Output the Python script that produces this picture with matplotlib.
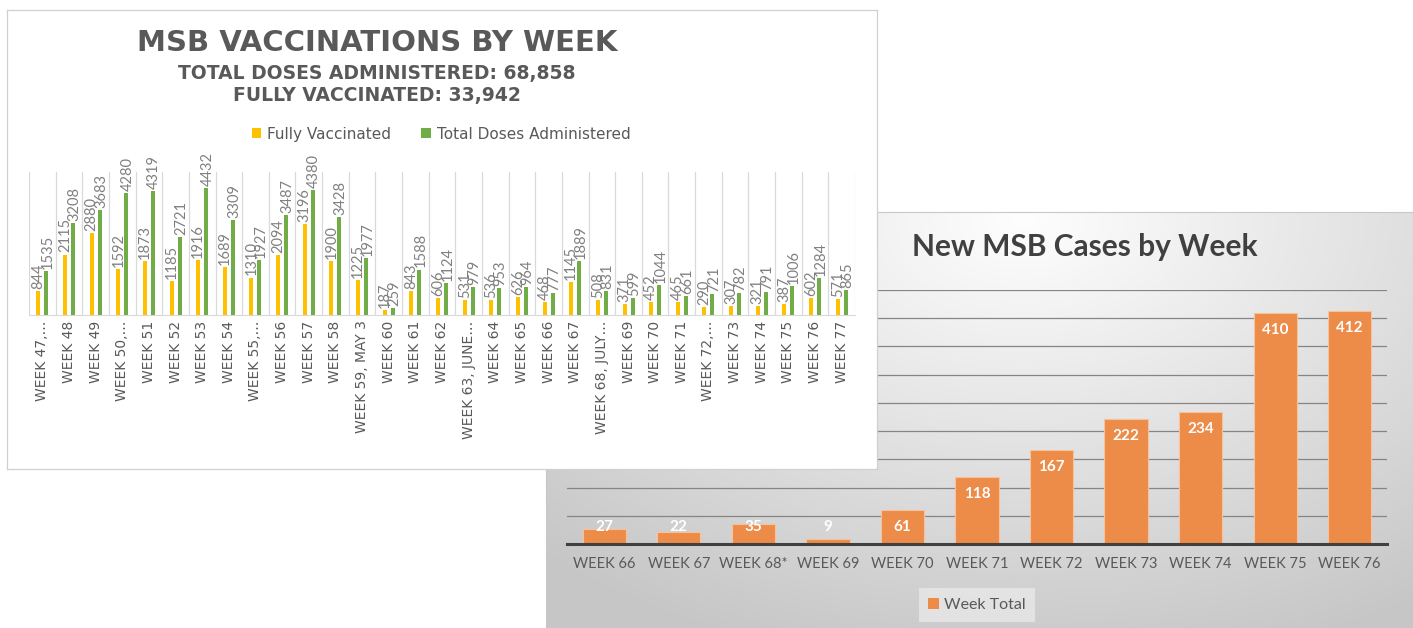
import numpy as np
import matplotlib
matplotlib.use("Agg")
import matplotlib.pyplot as plt
from matplotlib.patches import Patch

# ---------------- data ----------------
vax_weeks = ["WEEK 47,…", "WEEK 48", "WEEK 49", "WEEK 50,…", "WEEK 51", "WEEK 52",
             "WEEK 53", "WEEK 54", "WEEK 55,…", "WEEK 56", "WEEK 57", "WEEK 58",
             "WEEK 59, MAY 3", "WEEK 60", "WEEK 61", "WEEK 62", "WEEK 63, JUNE…",
             "WEEK 64", "WEEK 65", "WEEK 66", "WEEK 67", "WEEK 68, JULY…", "WEEK 69",
             "WEEK 70", "WEEK 71", "WEEK 72,…", "WEEK 73", "WEEK 74", "WEEK 75",
             "WEEK 76", "WEEK 77"]
fully_vaccinated = [844, 2115, 2880, 1592, 1873, 1185, 1916, 1689, 1310, 2094, 3196,
                    1900, 1225, 187, 843, 606, 531, 536, 626, 468, 1145, 508, 371,
                    452, 465, 290, 307, 321, 387, 602, 571]
total_doses = [1535, 3208, 3683, 4280, 4319, 2721, 4432, 3309, 1927, 3487, 4380,
               3428, 1977, 259, 1588, 1124, 979, 953, 964, 777, 1889, 831, 599,
               1044, 661, 721, 782, 791, 1006, 1284, 865]

case_weeks = ["WEEK 66", "WEEK 67", "WEEK 68*", "WEEK 69", "WEEK 70", "WEEK 71",
              "WEEK 72", "WEEK 73", "WEEK 74", "WEEK 75", "WEEK 76"]
week_total = [27, 22, 35, 9, 61, 118, 167, 222, 234, 410, 412]

YELLOW = "#FFC000"
GREEN = "#70AD47"
ORANGE = "#ED8B48"

W, H = 1413, 628
fig = plt.figure(figsize=(W / 100, H / 100), dpi=100)
fig.patch.set_facecolor("white")


def fx(px):
    return px / W


def fy(py):
    return 1 - py / H


# ---------------- right panel background (gradient) ----------------
bg = fig.add_axes([fx(546), 0, fx(W - 546), 416 / H], zorder=0)
yy, xx = np.mgrid[0:1:300j, 0:1:600j]
r = np.sqrt(((xx - 0.55) / 0.85) ** 2 + ((yy - 0.02) / 1.15) ** 2)
g = np.clip(254 - 58 * r, 198, 254) / 255.0
bg.imshow(np.dstack([g, g, g]), aspect="auto", extent=[0, 1, 1, 0])
bg.set_xlim(0, 1)
bg.set_ylim(1, 0)
bg.set_xticks([])
bg.set_yticks([])
for s in bg.spines.values():
    s.set_color("#c8c8c8")
    s.set_linewidth(0.8)

# ---------------- right chart ----------------
axr = fig.add_axes([fx(567), fy(544), fx(1387 - 567), (544 - 290) / H], zorder=1)
axr.patch.set_alpha(0)
xr = np.arange(len(case_weeks))
axr.bar(xr, week_total, width=0.58, color=ORANGE, edgecolor="#F6C29C",
        linewidth=0.8, zorder=3, label="Week Total")
axr.set_xlim(-0.5, len(case_weeks) - 0.5)
axr.set_ylim(0, 450)
axr.set_yticks(np.arange(50, 451, 50))
axr.yaxis.grid(True, color="#858585", linewidth=0.9)
axr.set_axisbelow(True)
axr.tick_params(axis="y", left=False, labelleft=False)
axr.set_xticks(xr)
axr.set_xticklabels(case_weeks, fontfamily="Lato", fontsize=10.5, color="#595959")
axr.tick_params(axis="x", length=0, pad=9)
for s in ["left", "right", "top"]:
    axr.spines[s].set_visible(False)
axr.spines["bottom"].set_color("#404040")
axr.spines["bottom"].set_linewidth(2.2)
axr.spines["bottom"].set_zorder(4)
for xi, v in zip(xr, week_total):
    axr.text(xi, max(v - 30, 30), str(v), ha="center", va="center", color="white",
             fontfamily="Lato", fontweight="bold", fontsize=11, zorder=5)
axr.text(0.632, 1.17, "New MSB Cases by Week", transform=axr.transAxes,
         ha="center", va="center", fontfamily="Lato", fontweight="bold",
         fontsize=21.5, color="#404040")
leg_r = axr.legend(handles=[Patch(facecolor=ORANGE, label="Week Total")],
                   loc="center", bbox_to_anchor=(fx(977), fy(605)),
                   bbox_transform=fig.transFigure, frameon=True, fancybox=False,
                   handlelength=0.7, handleheight=0.7, handletextpad=0.3,
                   prop={"family": "Lato", "size": 11.5}, borderpad=0.6)
leg_r.get_frame().set_facecolor("#e8e8e8")
leg_r.get_frame().set_edgecolor("none")
for t in leg_r.get_texts():
    t.set_color("#595959")

# ---------------- left panel background ----------------
lp = fig.add_axes([fx(7), fy(469), fx(877 - 7), (469 - 10) / H], zorder=2)
lp.set_facecolor("white")
lp.set_xticks([])
lp.set_yticks([])
for s in lp.spines.values():
    s.set_color("#d0d0d0")
    s.set_linewidth(0.9)

# ---------------- left chart ----------------
axl = fig.add_axes([fx(29), fy(315), fx(855 - 29), (315 - 172) / H], zorder=3)
axl.patch.set_alpha(0)
xl = np.arange(len(vax_weeks))
off, bw = 0.15, 0.15
axl.bar(xl - off, fully_vaccinated, width=bw, color=YELLOW, zorder=3,
        label="Fully Vaccinated")
axl.bar(xl + off, total_doses, width=bw, color=GREEN, zorder=3,
        label="Total Doses Administered")
axl.set_xlim(-0.5, len(vax_weeks) - 0.5)
axl.set_ylim(0, 5000)
axl.set_yticks([])
axl.set_xticks(xl)
axl.set_xticklabels(vax_weeks, rotation=90, fontsize=10, color="#595959",
                    fontfamily="DejaVu Sans")
axl.tick_params(axis="x", length=0, pad=4)
axl.set_xticks(np.arange(-0.5, len(vax_weeks), 1), minor=True)
axl.tick_params(axis="x", which="minor", length=0)
axl.xaxis.grid(True, which="minor", color="#d9d9d9", linewidth=0.9)
axl.set_axisbelow(True)
for s in ["left", "right", "top"]:
    axl.spines[s].set_visible(False)
axl.spines["bottom"].set_color("#d9d9d9")
for xi, a, b in zip(xl, fully_vaccinated, total_doses):
    axl.annotate(str(a), (xi - off, a), xytext=(0, 1.5), textcoords="offset points",
                 rotation=90, ha="center", va="bottom", fontsize=10.5,
                 color="#808080", fontfamily="Lato", zorder=5)
    axl.annotate(str(b), (xi + off + 0.05, b), xytext=(0, 1.5),
                 textcoords="offset points", rotation=90, ha="center",
                 va="bottom", fontsize=10.5, color="#808080", fontfamily="Lato",
                 zorder=5)

leg_l = axl.legend(loc="center", bbox_to_anchor=(fx(441), fy(134)),
                   bbox_transform=fig.transFigure, ncol=2, frameon=False,
                   handlelength=0.6, handleheight=0.6, handletextpad=0.4,
                   columnspacing=2.0, prop={"family": "DejaVu Sans", "size": 11})
for t in leg_l.get_texts():
    t.set_color("#595959")

fig.text(fx(377), fy(43), "MSB VACCINATIONS BY WEEK", ha="center", va="center",
         fontsize=21, fontweight="bold", color="#595959", fontfamily="DejaVu Sans",
         zorder=6)
fig.text(fx(377), fy(73), "TOTAL DOSES ADMINISTERED: 68,858", ha="center",
         va="center", fontsize=13.5, fontweight="bold", color="#595959",
         fontfamily="DejaVu Sans", zorder=6)
fig.text(fx(377), fy(96), "FULLY VACCINATED: 33,942", ha="center", va="center",
         fontsize=13.5, fontweight="bold", color="#595959",
         fontfamily="DejaVu Sans", zorder=6)

fig.savefig("out.png", dpi=100)
